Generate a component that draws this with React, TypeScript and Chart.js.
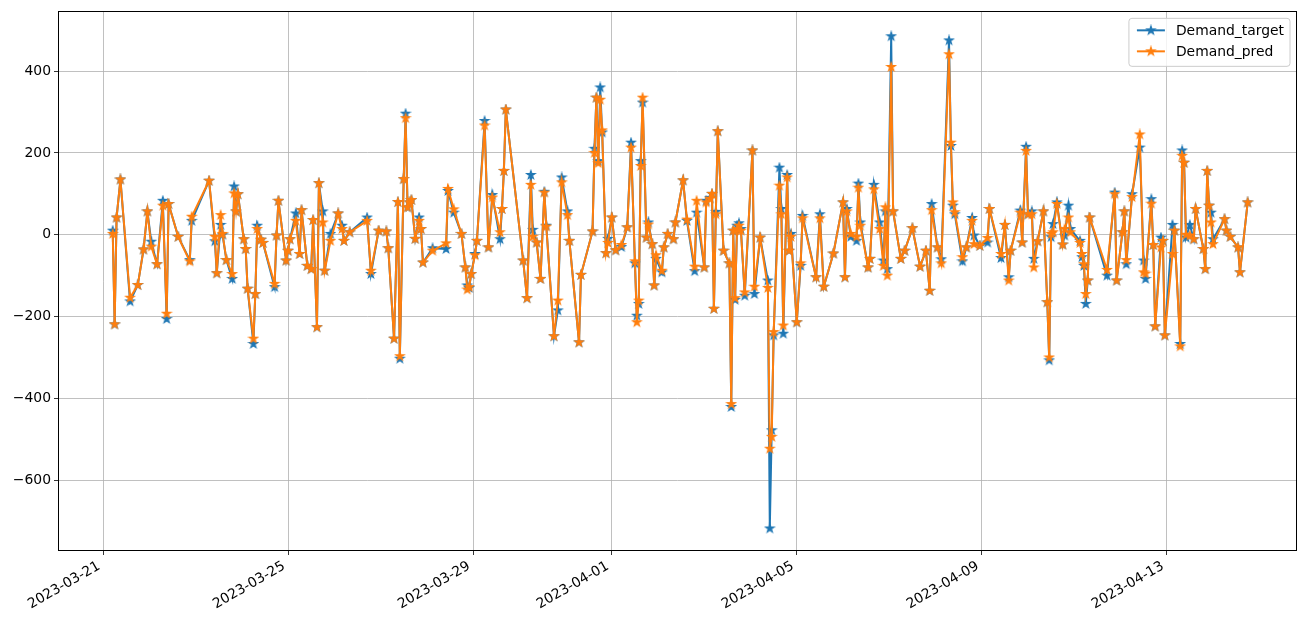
import React, { useEffect, useRef } from "react";
import { Chart, registerables } from "chart.js";

Chart.register(...registerables);

// Time axis: hours since 2023-03-21 00:00 (UTC)
const START = "2023-03-21T00:00:00Z";

const hoursSinceStart = [
  5, 6, 7, 9, 14, 18, 21, 23, 25, 28, 31, 33, 34, 39, 45, 46, 55,
  58, 59, 61, 62, 64, 67, 68, 69, 70, 73, 74, 75, 78, 79, 80, 82, 83, 89, 90, 91, 95, 96, 97, 100, 102, 103, 106, 108, 109, 111,
  112, 114, 115, 118, 122, 124, 125, 128, 137, 139, 143, 147, 148, 151, 153, 154, 156, 157, 158, 159, 160, 162, 164, 165, 166, 171, 178, 179, 182, 186, 188, 189, 190, 191, 193, 194, 198, 200, 202, 206, 207, 208, 209, 218, 220,
  222, 223, 225, 227, 229, 230, 234, 236, 238, 241, 242, 247, 248, 254, 255, 256, 257, 258, 259, 261, 262, 264, 266, 269, 272, 274,
  276, 277, 278, 279, 280, 282, 283, 285, 286, 287, 290, 291, 293, 296, 297, 301, 303, 307, 308, 312, 313, 315, 316, 317, 318, 319, 322, 325, 326, 327, 328, 329, 330, 331, 333, 337, 338, 341, 345, 346, 347, 348, 351, 352, 353, 355, 356, 357, 360, 362, 363, 370, 372, 374, 379,
  384, 385, 386, 388, 391, 392, 393, 397, 398, 400, 403, 405, 406, 407, 409, 410, 414, 416, 420, 424, 427, 429, 430, 433, 435,
  439, 440, 441, 442, 446, 448, 451, 452, 455, 459, 460, 466, 468, 470, 471, 476, 477, 479, 480, 482, 483, 485, 488, 490, 491, 492,
  493, 495, 498, 499, 501, 502, 507, 508, 509, 510, 511, 512, 521, 525, 526, 529, 530, 531, 534, 538, 540, 541, 544,
  545, 546, 549, 550, 551, 555, 556, 559, 560, 561, 562, 564, 566, 567, 571, 572, 573, 574, 575, 576, 582, 583, 585, 589, 590, 594,
];

const demandTarget = [
  10, -219, 42, 135, -163, -123, -36, 57, -17, -72, 83, -206, 75, -5, -62, 34, 132,
  -16, -94, 24, 0, -62, -108, 118, 57, 99, -11, -35, -132, -267, -145, 22, -12, -20, -128, -2, 83, -63, -39, -11, 52, -47, 60, -76, -84, 36, -226,
  126, 57, -88, 2, 52, 22, -15, 6, 42, -96, 10, 8, -33, -254, 80, -303, 136, 296, 67, 79, 85, -10, 42, 14, -68, -33, -35, 107, 54, 2, -80, -124, -130, -96, -47, -15, 278, -31, 97, -11, 63, 156, 306, -63, -155,
  146, 12, -19, -108, 105, 22, -248, -185, 140, 57, -15, -263, -98, 8, 210, 335, 180, 360, 250, -45, -10, 42, -38, -30, 18, 225,
  -70, -198, -169, 180, 323, -7, 30, -23, -124, -59, -92, -31, 2, -11, 30, 133, 34, -89, 54, -80, 83, 90, 100, -181, 56, 253, -39, -70, -421, 10, -159, 22, 28, 14, -149, 206, -145, -7, -112, -718, -478, -246, 164, 63, -242, 146, -39, 2, -214, -76, 46, -104, 50, -127, -46,
  79, -104, 63, -5, -15, 125, 30, -80, -59, 122, 30, -63, 57, -84, 485, 57, -59, -39, 16, -78, -39, -137, 75, -31, -60,
  475, 217, 71, 50, -65, -31, 41, -2, -27, -19, 63, -57, 24, -104, -39, 59, -19, 215, 50, 57, -59, -16, 57, -165, -307, -6,
  26, 79, -24, -2, 71, 14, -15, -55, -76, -169, -112, 42, -100, 103, -112, 6, 57, -72, 99, 213, -63, -108, 87,
  -25, -224, -7, -15, -246, 24, 10, -267, 206, 176, -7, 24, -11, 63, -35, -84, 156, 71, 54, -11, 38, 10, -5, -31, -92, 79,
];

const demandPred = [
  2, -219, 42, 135, -154, -123, -36, 57, -29, -72, 71, -193, 75, -5, -65, 44, 132,
  -5, -94, 48, 2, -62, -96, 101, 57, 99, -11, -35, -132, -254, -145, 14, -12, -20, -120, -2, 83, -63, -39, -11, 34, -47, 60, -76, -84, 36, -226,
  126, 30, -88, -15, 52, 14, -15, 6, 34, -88, 10, 8, -33, -254, 80, -297, 136, 285, 67, 79, 85, -10, 34, 14, -68, -39, -21, 112, 62, 2, -80, -134, -128, -96, -50, -15, 267, -31, 91, 6, 63, 156, 306, -63, -155,
  122, -5, -19, -108, 103, 20, -248, -161, 128, 48, -15, -263, -98, 8, 200, 335, 175, 330, 255, -45, -20, 42, -38, -25, 18, 213,
  -65, -214, -161, 168, 335, -7, 25, -23, -124, -50, -88, -31, 2, -11, 30, 133, 37, -78, 83, -80, 79, 88, 100, -181, 50, 253, -39, -70, -414, 10, -155, 14, 22, 10, -141, 206, -127, -7, -130, -523, -494, -238, 120, 50, -222, 140, -39, -5, -214, -70, 40, -104, 40, -127, -46,
  79, -104, 57, 2, -5, 115, 22, -80, -59, 111, 14, -76, 67, -100, 410, 57, -59, -39, 16, -78, -39, -137, 60, -31, -70,
  441, 225, 79, 55, -55, -31, 34, -23, -27, -8, 63, -47, 24, -112, -39, 54, -19, 205, 50, 50, -80, -16, 57, -165, -300, 2,
  6, 75, -24, 14, 42, 6, -20, -47, -72, -145, -112, 42, -86, 99, -112, 6, 57, -62, 92, 245, -92, -95, 76,
  -25, -224, -31, -15, -246, -47, 10, -273, 193, 176, 0, -2, -11, 63, -35, -84, 156, 71, 30, -23, 38, 10, -5, -31, -92, 79,
];

const seriesLabels = ["Demand_target", "Demand_pred"];
const seriesColors = ["#1f77b4", "#ff7f0e"];
const xTickDates = ["2023-03-21", "2023-03-25", "2023-03-29", "2023-04-01", "2023-04-05", "2023-04-09", "2023-04-13"];
const yTicks = [-600, -400, -200, 0, 200, 400];

const FONT_FAMILY = "'DejaVu Sans', sans-serif";
const FONT_SIZE = 13.9;

function makeStar(color: string): HTMLCanvasElement {
  const size = 12;
  const c = document.createElement("canvas");
  c.width = size;
  c.height = size;
  const ctx = c.getContext("2d")!;
  const cx = size / 2;
  const cy = size / 2;
  const R = 4.3;
  const r = R * 0.382;
  ctx.beginPath();
  for (let i = 0; i < 10; i++) {
    const a = -Math.PI / 2 + (i * Math.PI) / 5;
    const rad = i % 2 === 0 ? R : r;
    const px = cx + rad * Math.cos(a);
    const py = cy + rad * Math.sin(a);
    if (i === 0) ctx.moveTo(px, py);
    else ctx.lineTo(px, py);
  }
  ctx.closePath();
  ctx.fillStyle = color;
  ctx.fill();
  ctx.lineWidth = 1.2;
  ctx.strokeStyle = color;
  ctx.lineJoin = "miter";
  ctx.stroke();
  return c;
}

export default function App() {
  const ref = useRef<HTMLCanvasElement | null>(null);

  useEffect(() => {
    if (!ref.current) return;
    const startMs = Date.parse(START);
    const tickHours = xTickDates.map((d) => (Date.parse(d + "T00:00:00Z") - startMs) / 3600000);
    const stars = seriesColors.map((c) => makeStar(c));
    const toPts = (vals: number[]) => vals.map((v, i) => ({ x: hoursSinceStart[i], y: v }));

    const bgPlugin = {
      id: "bg",
      beforeDraw(chart: any) {
        const { ctx } = chart;
        ctx.save();
        ctx.fillStyle = "#ffffff";
        ctx.fillRect(0, 0, chart.width, chart.height);
        ctx.restore();
      },
    };

    const framePlugin = {
      id: "frame",
      afterDatasetsDraw(chart: any) {
        const { ctx, chartArea } = chart;
        ctx.save();
        ctx.strokeStyle = "#000000";
        ctx.lineWidth = 1;
        ctx.strokeRect(
          Math.round(chartArea.left) + 0.5,
          Math.round(chartArea.top) + 0.5,
          Math.round(chartArea.right - chartArea.left) - 1,
          Math.round(chartArea.bottom - chartArea.top) - 1
        );
        ctx.restore();
      },
    };

    const legendPlugin = {
      id: "mplLegend",
      afterDraw(chart: any) {
        const { ctx, chartArea } = chart;
        const labels: string[] = chart.data.datasets.map((d: any) => d.label);
        ctx.save();
        ctx.font = `${FONT_SIZE}px ${FONT_FAMILY}`;
        const textW = Math.max(...labels.map((l) => ctx.measureText(l).width));
        const padL = 8;
        const handleLen = 28;
        const handleGap = 11;
        const padR = 6;
        const w = padL + handleLen + handleGap + textW + padR;
        const h = 48;
        const x0 = chartArea.right - 7 - w;
        const y0 = chartArea.top + 7;
        const rad = 3;
        ctx.beginPath();
        ctx.moveTo(x0 + rad, y0);
        ctx.lineTo(x0 + w - rad, y0);
        ctx.quadraticCurveTo(x0 + w, y0, x0 + w, y0 + rad);
        ctx.lineTo(x0 + w, y0 + h - rad);
        ctx.quadraticCurveTo(x0 + w, y0 + h, x0 + w - rad, y0 + h);
        ctx.lineTo(x0 + rad, y0 + h);
        ctx.quadraticCurveTo(x0, y0 + h, x0, y0 + h - rad);
        ctx.lineTo(x0, y0 + rad);
        ctx.quadraticCurveTo(x0, y0, x0 + rad, y0);
        ctx.closePath();
        ctx.fillStyle = "rgba(255,255,255,0.8)";
        ctx.fill();
        ctx.strokeStyle = "#cccccc";
        ctx.lineWidth = 1;
        ctx.stroke();
        labels.forEach((label, i) => {
          const cy = y0 + 12 + i * 21;
          const lx = x0 + padL;
          ctx.beginPath();
          ctx.moveTo(lx, cy);
          ctx.lineTo(lx + handleLen, cy);
          ctx.strokeStyle = seriesColors[i];
          ctx.lineWidth = 2;
          ctx.stroke();
          const s = stars[i];
          ctx.drawImage(s, lx + handleLen / 2 - s.width / 2, cy - s.height / 2);
          ctx.fillStyle = "#000000";
          ctx.textAlign = "left";
          ctx.textBaseline = "middle";
          ctx.fillText(label, lx + handleLen + handleGap, cy + 1);
        });
        ctx.restore();
      },
    };

    const tickFont = { family: FONT_FAMILY, size: FONT_SIZE };

    const chart = new Chart(ref.current, {
      type: "line",
      data: {
        datasets: [
          {
            label: seriesLabels[0],
            data: toPts(demandTarget),
            borderColor: seriesColors[0],
            backgroundColor: seriesColors[0],
            borderWidth: 2,
            pointStyle: stars[0] as any,
            pointRadius: 4,
            tension: 0,
            order: 2,
          },
          {
            label: seriesLabels[1],
            data: toPts(demandPred),
            borderColor: seriesColors[1],
            backgroundColor: seriesColors[1],
            borderWidth: 2,
            pointStyle: stars[1] as any,
            pointRadius: 4,
            tension: 0,
            order: 1,
          },
        ],
      },
      options: {
        animation: false,
        responsive: false,
        maintainAspectRatio: false,
        layout: { padding: { top: 10, right: 10, left: 0, bottom: 0 } },
        plugins: {
          legend: { display: false },
          tooltip: { enabled: false },
        },
        scales: {
          x: {
            type: "linear",
            min: -23.4,
            max: 619.6,
            afterBuildTicks: (s: any) => {
              s.ticks = tickHours.map((v) => ({ value: v }));
            },
            afterFit: (s: any) => {
              s.height = 74;
            },
            ticks: {
              autoSkip: false,
              minRotation: 30,
              maxRotation: 30,
              padding: 3,
              labelOffset: -4,
              color: "#000000",
              font: tickFont,
              callback: (v: any) => {
                const i = tickHours.indexOf(Number(v));
                return i >= 0 ? xTickDates[i] : "";
              },
            },
            grid: {
              color: "#b0b0b0",
              lineWidth: 0.8,
              drawTicks: true,
              tickLength: 4,
              tickColor: "#000000",
            },
            border: { display: false },
          },
          y: {
            type: "linear",
            min: -773,
            max: 546,
            afterBuildTicks: (s: any) => {
              s.ticks = yTicks.map((v) => ({ value: v }));
            },
            afterFit: (s: any) => {
              s.width = 58;
            },
            ticks: {
              padding: 3,
              color: "#000000",
              font: tickFont,
              callback: (v: any) => String(v).replace("-", "\u2212"),
            },
            grid: {
              color: "#b0b0b0",
              lineWidth: 0.8,
              drawTicks: true,
              tickLength: 4,
              tickColor: "#000000",
            },
            border: { display: false },
          },
        },
      },
      plugins: [bgPlugin, framePlugin, legendPlugin],
    } as any);

    return () => chart.destroy();
  }, []);

  return (
    <div style={{ position: "fixed", left: 0, top: 0, width: 1307, height: 625, background: "#ffffff" }}>
      <canvas ref={ref} width={1307} height={625} style={{ display: "block", width: 1307, height: 625 }} />
    </div>
  );
}
